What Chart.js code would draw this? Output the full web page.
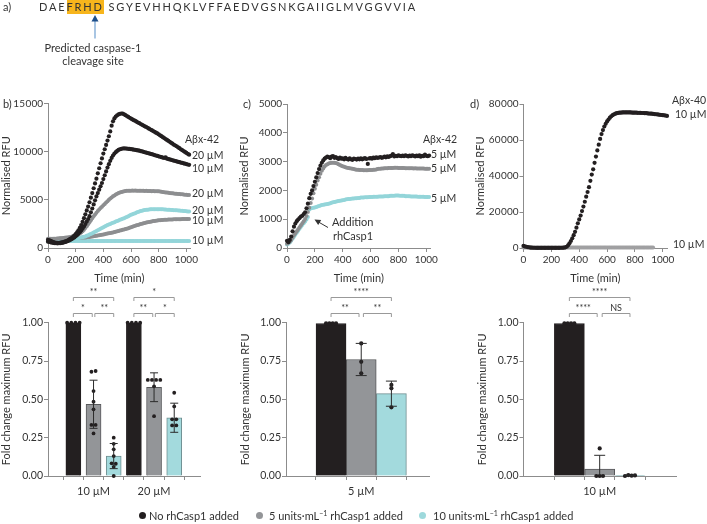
<!DOCTYPE html>
<html><head><meta charset="utf-8">
<script src="https://cdn.jsdelivr.net/npm/chart.js@4.4.0/dist/chart.umd.min.js"></script>
<style>
html,body{margin:0;padding:0;background:#fff;}
#wrap{position:relative;width:707px;height:524px;overflow:hidden;font-family:Lato,"Noto Sans",sans-serif;color:#333;}
canvas.layer{position:absolute;left:0;top:0;}
.t{position:absolute;white-space:nowrap;font-size:11px;line-height:12px;height:12px;}
.s{font-size:10.5px;}
.lg{position:absolute;top:510px;font-size:11px;line-height:12px;white-space:nowrap;}
.dot{position:absolute;width:7px;height:7px;border-radius:50%;top:512px;}
sup{font-size:7px;line-height:0;vertical-align:4px;}
svg{position:absolute;left:0;top:0;}
</style></head><body><div id="wrap">
<canvas id="bLine" class="layer" width="707" height="524"></canvas>
<canvas id="cLine" class="layer" width="707" height="524"></canvas>
<canvas id="dLine" class="layer" width="707" height="524"></canvas>
<canvas id="bBar" class="layer" width="707" height="524"></canvas>
<canvas id="cBar" class="layer" width="707" height="524"></canvas>
<canvas id="dBar" class="layer" width="707" height="524"></canvas>

<svg width="707" height="524">
<line x1="95" y1="38.5" x2="95" y2="20" stroke="#6f9fd0" stroke-width="1.2"/>
<polygon points="95,15 91.5,21.5 98.5,21.5" fill="#1d4f8b"/>
<line x1="328" y1="227.5" x2="318.5" y2="222" stroke="#333" stroke-width="1"/>
<polygon points="314.5,219.5 321.2,219.9 318.2,225.1" fill="#333"/>
</svg>

<div class="t" style="left:3px;top:1px;">a)</div>
<div class="t" style="left:39px;top:1px;letter-spacing:1.85px;">DAE<span style="background:#f7b51c;display:inline-block;height:13px;margin-top:-1px;padding-top:1px;">FRHD</span> SGYEVHHQKLVFFAEDVGSNKGAIIGLMVGGVVIA</div>
<div class="t" style="left:93px;top:42px;transform:translateX(-50%);">Predicted caspase-1</div>
<div class="t" style="left:93px;top:55px;transform:translateX(-50%);">cleavage site</div>

<div class="t" style="left:3px;top:98px;">b)</div>
<div class="t" style="left:243px;top:98px;">c)</div>
<div class="t" style="left:470px;top:98px;">d)</div>

<div class="t s" style="left:185px;top:133px;">Aβx-42</div>
<div class="t s" style="left:192px;top:149px;">20 µM</div>
<div class="t s" style="left:192px;top:162px;">10 µM</div>
<div class="t s" style="left:192px;top:187px;">20 µM</div>
<div class="t s" style="left:192px;top:204px;">20 µM</div>
<div class="t s" style="left:192px;top:214px;">10 µM</div>
<div class="t s" style="left:192px;top:234px;">10 µM</div>

<div class="t s" style="left:423px;top:133px;">Aβx-42</div>
<div class="t s" style="left:431px;top:148px;">5 µM</div>
<div class="t s" style="left:431px;top:162px;">5 µM</div>
<div class="t s" style="left:431px;top:192px;">5 µM</div>
<div class="t" style="left:332px;top:216px;">Addition</div>
<div class="t" style="left:333px;top:230px;">rhCasp1</div>

<div class="t s" style="left:672px;top:94px;">Aβx-40</div>
<div class="t s" style="left:675px;top:108px;">10 µM</div>
<div class="t s" style="left:673px;top:238px;">10 µM</div>

<div class="dot" style="left:139px;background:#231f20;"></div>
<div class="lg" style="left:149px;">No rhCasp1 added</div>
<div class="dot" style="left:256px;background:#939598;"></div>
<div class="lg" style="left:269px;">5 units·mL<sup>−1</sup> rhCasp1 added</div>
<div class="dot" style="left:419px;background:#9ed9dc;"></div>
<div class="lg" style="left:433px;">10 units·mL<sup>−1</sup> rhCasp1 added</div>
</div>
<script>
// ---------- DATA ----------
const timeTicks = [0,200,400,600,800,1000];
const timeMin = [0,10,20,30,40,50,60,70,80,90,100,110,120,130,140,150,160,170,180,190,200,210,220,230,240,250,260,270,280,290,300,310,320,330,340,350,360,370,380,390,400,410,420,430,440,450,460,470,480,490,500,510,520,530,540,550,560,570,580,590,600,610,620,630,640,650,660,670,680,690,700,710,720,730,740,750,760,770,780,790,800,810,820,830,840,850,860,870,880,890,900,910,920,930,940,950,960,970,980,990,1000,1010,1020];
const timeMinD = [0,10,20,30,40,50,60,70,80,90,100,110,120,130,140,150,160,170,180,190,200,210,220,230,240,250,260,270,280,290,300,310,320,330,340,350,360,370,380,390,400,410,420,430,440,450,460,470,480,490,500,510,520,530,540,550,560,570,580,590,600,610,620,630,640,650,660,670,680,690,700,710,720,730,740,750,760,770,780,790,800,810,820,830,840,850,860,870,880,890,900,910,920,930,940,950,960,970,980,990,1000,1010,1020,1030,1040,1050];

// panel b, Aβx-42 (normalised RFU)
const bNone20 = [850,800,730,660,610,570,545,535,540,555,
580,615,660,715,780,855,940,1035,1140,1280,
1450,1620,1830,2080,2380,2720,3100,3500,3900,4300,
4750,5220,5700,6200,6700,7200,7750,8280,8800,9300,
9800,10250,10700,11150,11600,12100,12700,13150,13450,13650,
13780,13870,13930,13960,13950,13880,13790,13700,13610,13520,
13430,13350,13270,13200,13110,13030,12960,12870,12790,12710,
12630,12560,12470,12390,12300,12230,12140,12060,11970,11890,
11800,11700,11610,11500,11410,11310,11220,11110,11020,10920,
10830,10720,10640,10560,10450,10360,10250,10160,10060,9970,
9870,9780,9690];
const bNone10 = [660,630,590,555,525,505,495,490,495,510,
530,560,600,645,700,760,830,910,1000,1100,
1210,1340,1480,1640,1820,2020,2240,2480,2740,3010,
3300,3700,4100,4520,4950,5350,5700,6050,6400,6750,
7150,7550,7950,8350,8700,9050,9350,9600,9800,9950,
10080,10180,10250,10300,10330,10340,10330,10320,10300,10280,
10260,10240,10210,10190,10160,10130,10100,10060,10020,9980,
9940,9900,9860,9820,9780,9740,9700,9650,9600,9560,
9520,9470,9430,9390,9350,9400,9270,9230,9190,9150,
9110,9070,9030,8990,8950,8910,8870,8830,8790,8750,
8710,8670,8630];
const bFive20 = [900,910,920,930,940,950,960,975,990,1005,
1020,1040,1060,1080,1100,1125,1150,1180,1210,1250,
1300,1360,1430,1510,1620,1750,1900,2080,2270,2470,
2680,2890,3090,3290,3480,3660,3830,3990,4140,4290,
4440,4580,4720,4860,5000,5130,5250,5360,5460,5550,
5630,5700,5760,5810,5850,5880,5910,5930,5940,5950,
5950,5960,5950,5960,5950,5940,5950,5940,5930,5930,
5920,5930,5920,5910,5910,5900,5910,5900,5890,5900,
5880,5860,5830,5810,5790,5770,5750,5730,5710,5690,
5680,5660,5640,5630,5610,5600,5580,5570,5560,5540,
5530,5510,5500];
const bTen20 = [700,720,740,760,770,780,790,800,810,820,
830,840,850,860,870,880,895,910,930,950,
975,1000,1030,1060,1090,1120,1160,1200,1260,1320,
1390,1460,1530,1600,1680,1760,1840,1920,2000,2080,
2160,2240,2310,2380,2440,2500,2560,2620,2680,2740,
2800,2860,2920,2980,3040,3100,3160,3230,3300,3370,
3440,3500,3560,3620,3680,3730,3780,3830,3870,3910,
3940,3960,3980,4000,4010,4020,4030,4030,4030,4030,
4030,4030,4020,4010,4000,3990,3980,3970,3960,3950,
3940,3930,3920,3910,3900,3890,3870,3860,3840,3830,
3810,3800,3790];
const bFive10 = [950,950,955,960,960,965,970,970,975,980,
985,990,990,995,1000,1005,1010,1015,1020,1025,
1030,1040,1050,1060,1070,1080,1090,1100,1115,1130,
1150,1170,1190,1215,1240,1265,1290,1320,1350,1380,
1410,1440,1470,1500,1530,1560,1590,1620,1650,1690,
1730,1770,1810,1850,1890,1930,1970,2010,2050,2100,
2150,2200,2250,2300,2350,2400,2440,2480,2520,2560,
2600,2640,2670,2700,2730,2760,2790,2810,2830,2850,
2870,2890,2900,2910,2920,2930,2940,2950,2960,2965,
2970,2975,2980,2985,2990,2990,2995,3000,3000,3000,
3000,3000,3000];
const bTen10 = [720,725,730,730,735,730,730,735,730,730,
735,730,730,735,730,735,730,730,735,730,
730,735,730,730,735,730,735,730,730,735,
730,730,735,730,730,735,730,735,730,730,
735,730,730,735,730,730,735,730,735,730,
730,735,730,730,735,730,730,735,730,735,
730,730,735,730,730,735,730,730,735,730,
735,730,730,735,730,730,735,730,730,735,
730,735,730,730,735,730,730,735,730,730,
735,730,730,735,730,735,730,730,735,730,
730,735,730];

// panel c, Aβx-42 5 µM
const cNone5 = [250,200,280,400,580,740,850,930,990,1040,
1090,1120,1180,1240,1380,1540,1730,1880,2000,2150,
2300,2450,2600,2740,2860,2960,3040,3100,3140,3170,
3160,3120,3170,3190,3130,3160,3120,3090,3140,3100,
3110,3080,3130,3090,3070,3110,3080,3060,3100,3090,
3070,3100,3080,3110,3080,3100,3120,3090,2920,3110,
3120,3100,3140,3120,3150,3130,3140,3160,3130,3150,
3170,3150,3180,3160,3190,3210,3260,3180,3200,3190,
3220,3200,3190,3210,3190,3220,3200,3180,3210,3190,
3220,3200,3180,3210,3190,3220,3170,3200,3190,3240,
3200,3190,3210];
const cFive5 = [150,180,220,280,360,440,510,580,650,720,
790,860,930,1010,1110,1250,1400,1560,1720,1900,
2060,2200,2340,2460,2580,2680,2760,2830,2880,2910,
2930,2950,2960,2960,2960,2950,2930,2910,2880,2860,
2840,2820,2800,2790,2780,2770,2760,2750,2740,2730,
2720,2720,2710,2710,2710,2700,2700,2700,2700,2710,
2710,2710,2720,2720,2730,2740,2750,2750,2760,2760,
2770,2770,2770,2780,2780,2780,2780,2790,2790,2790,
2780,2780,2780,2780,2780,2770,2770,2770,2770,2770,
2770,2760,2770,2760,2760,2760,2760,2760,2760,2750,
2750,2750,2750];
const cTen5 = [120,150,190,250,320,390,460,530,600,670,
740,800,860,920,990,1080,1340,1370,1390,1400,
1410,1420,1440,1460,1480,1490,1500,1510,1520,1530,
1540,1550,1570,1590,1600,1610,1620,1630,1640,1650,
1660,1670,1680,1690,1700,1700,1710,1720,1720,1730,
1730,1740,1740,1750,1750,1750,1760,1760,1760,1770,
1770,1770,1780,1780,1780,1780,1790,1790,1790,1790,
1800,1800,1800,1800,1810,1810,1810,1810,1820,1820,
1820,1810,1810,1810,1810,1800,1800,1800,1800,1790,
1790,1790,1790,1790,1780,1780,1780,1780,1780,1770,
1770,1770,1770];

// panel d, Aβx-40 10 µM
const dNone10 = [1200,900,700,500,350,250,200,150,150,100,
100,100,100,100,100,100,100,100,100,100,
100,100,100,100,100,100,100,150,150,200,
350,700,1500,2600,3900,5400,7100,9000,11300,13700,
15900,18000,20500,23000,25700,28500,31100,33800,37300,40800,
43700,47300,50800,54200,57400,60600,63300,65500,67500,69000,
70300,71400,72400,73200,73800,74300,74600,74900,75100,75200,
75200,75300,75300,75300,75300,75300,75300,75300,75200,75200,
75200,75200,75100,75100,75100,75000,75000,74900,74900,74800,
74700,74700,74600,74500,74400,74300,74200,74100,74000,73900,
73800,73700,73600,73400,73300,73100];
const dFive10 = [300,250,250,300,250,250,300,250,250,300,
250,250,300,250,250,300,250,250,300,250,
250,300,250,250,300,250,250,300,250,250,
300,250,250,300,250,250,300,250,250,300,
250,250,300,250,250,300,250,250,300,250,
250,300,250,250,300,250,250,300,250,250,
300,250,250,300,250,250,300,250,250,300,
250,250,300,250,250,300,250,250,300,250,
250,300,250,250,300,250,250,300,250,250,
300,250,250,300];

// bar panels: fold change of maximum RFU
const barSeries = ['No rhCasp1 added','5 units·mL⁻¹ rhCasp1 added','10 units·mL⁻¹ rhCasp1 added'];
const bCats = ['10 µM','20 µM'];
const bMeans = [[1,1],[0.468,0.579],[0.13,0.38]];
const bSds = [[0,0],[0.157,0.094],[0.082,0.095]];
const bReps = [
  [[1,1,1,1],[1,1,1,1]],
  [[0.68,0.685,0.554,0.485,0.435,0.333,0.333,0.278],[0.627,0.627,0.627,0.627,0.585,0.39]],
  [[0.25,0.21,0.174,0.13,0.083,0.08,0.06,0.0],[0.543,0.454,0.37,0.37,0.33,0.33]]
];
const bSig = [[1,3,'**',1],[1,2,'*',0],[2,3,'**',0],[4,6,'*',1],[4,5,'**',0],[5,6,'*',0]];

const cCats = ['5 µM'];
const cMeans = [[0.995],[0.76],[0.537]];
const cSds = [[0],[0.105],[0.082]];
const cReps = [[[0.995,0.995,0.995,0.995]],[[0.865,0.745,0.67]],[[0.594,0.572,0.448]]];
const cSig = [[1,3,'****',1],[1,2,'**',0],[2,3,'**',0]];

const dCats = ['10 µM'];
const dMeans = [[0.995],[0.045],[0.004]];
const dSds = [[0],[0.09],[0.002]];
const dReps = [[[0.995,0.995,0.995,0.995]],[[0.18,0,0,0]],[[0,0.006,0.002,0.004]]];
const dSig = [[1,3,'****',1],[1,2,'****',0],[2,3,'NS',0]];

// ---------- STYLE ----------
const BLACK='#231f20', GRAYL='#8d8e90', CYANL='#93d5d9';
const BARCOL=['#231f20','#939598','#a3dadd'];
const BARBORDER=['#231f20','#58595b','#6f8f91'];
const AX='#8c8c8c', TXT='#333';
Chart.defaults.font.family='Lato, "Noto Sans", sans-serif';
Chart.defaults.color=TXT;
Chart.defaults.animation=false;

function pts(t,v){return v.map((y,i)=>({x:t[i],y:y}));}
function frame(g,xH){return {left:g.L-g.yW,top:g.T,right:707-g.R,bottom:524-g.B-xH};}
function thou(v){const s=String(v);return v>=10000? s.slice(0,-3)+'\u200A'+s.slice(-3):s;}

function axisBase(){return {grid:{drawOnChartArea:false,tickLength:4,color:AX,lineWidth:1},border:{color:AX,width:1}};}

function makeLine(id,g,sets,yMax,yStep,fmt){
  const xH=37;
  new Chart(document.getElementById(id),{
    type:'scatter',
    data:{datasets:sets.map(s=>({data:pts(s.t,s.v),pointBackgroundColor:s.c,pointBorderWidth:0,pointRadius:s.r,showLine:false,clip:false}))},
    options:{responsive:false,devicePixelRatio:1,animation:false,layout:{padding:frame(g,xH)},
      plugins:{legend:{display:false},tooltip:{enabled:false}},
      events:[],
      scales:{
        x:Object.assign(axisBase(),{type:'linear',min:0,max:1030,afterFit:s=>{s.height=xH;},
          afterBuildTicks:s=>{s.ticks=timeTicks.map(v=>({value:v}));},
          ticks:{callback:v=>String(v),font:{size:10},padding:2,maxRotation:0,autoSkip:false,color:TXT},
          title:{display:true,text:'Time (min)',font:{size:11},padding:{top:6,bottom:0},color:TXT}}),
        y:Object.assign(axisBase(),{type:'linear',min:0,max:yMax,afterFit:s=>{s.width=g.yW;},
          ticks:{stepSize:yStep,callback:fmt,font:{size:10},padding:1,color:TXT},
          title:{display:true,text:'Normalised RFU',font:{size:11},padding:0,color:TXT}})
      }}
  });
}

const sigPlugin={id:'sig',afterDraw(chart,args,o){
  if(!o||!o.items)return;
  const ctx=chart.ctx,xs=chart.scales.x,ys=chart.scales.y;
  ctx.save();ctx.strokeStyle='#999';ctx.lineWidth=1;ctx.fillStyle=TXT;
  ctx.font='9px Lato, "Noto Sans", sans-serif';ctx.textAlign='center';ctx.textBaseline='bottom';
  o.items.forEach(([a,b,lab,lev])=>{
    let x1=xs.getPixelForValue(a),x2=xs.getPixelForValue(b);
    if(lev===0){ if((a-1)%3===1)x1+=o.gap; if((b-1)%3===1)x2-=o.gap; }
    const y=Math.round(ys.getPixelForValue(o.levels[lev]))+0.5;
    ctx.beginPath();ctx.moveTo(x1,y+3.5);ctx.lineTo(x1,y);ctx.lineTo(x2,y);ctx.lineTo(x2,y+3.5);ctx.stroke();
    ctx.fillText(lab,(x1+x2)/2,y-0.5);
  });
  ctx.restore();
}};
const errPlugin={id:'err',afterDatasetsDraw(chart,args,o){
  if(!o||!o.items)return;
  const ctx=chart.ctx,xs=chart.scales.x,ys=chart.scales.y;
  ctx.save();ctx.strokeStyle='#2b2b2b';ctx.lineWidth=1;
  o.items.forEach(it=>{
    if(!it.sd)return;
    const x=xs.getPixelForValue(it.x),yt=ys.getPixelForValue(it.m+it.sd),yb=ys.getPixelForValue(Math.max(0,it.m-it.sd));
    const h=o.cap/2;
    ctx.beginPath();ctx.moveTo(x,yt);ctx.lineTo(x,yb);
    ctx.moveTo(x-h,yt);ctx.lineTo(x+h,yt);
    if(it.m-it.sd>0){ctx.moveTo(x-h,yb);ctx.lineTo(x+h,yb);}
    ctx.stroke();
  });
  ctx.restore();
}};

function makeBar(id,g,cats,means,sds,reps,sig,xMin,xMax,barW,cap,gap,dotR){
  const xH=30;
  const ppu=(g.R-g.L)/(xMax-xMin);
  const pos=(ci,si)=>ci*3+si+1;
  const datasets=[];
  const dots=[];
  const errs=[];
  reps.forEach((serie,si)=>serie.forEach((vals,ci)=>{
    const clusters=[];
    vals.forEach(v=>{let c=clusters.find(c=>Math.abs(c.v-v)<0.02);if(!c){c={v:v,list:[]};clusters.push(c);}c.list.push(v);});
    clusters.forEach(c=>{const n=c.list.length;c.list.forEach((v,k)=>dots.push({x:pos(ci,si)+((k-(n-1)/2)*5)/ppu,y:v}));});
    errs.push({x:pos(ci,si),m:means[si][ci],sd:sds[si][ci]});
  }));
  datasets.push({type:'scatter',data:dots,pointBackgroundColor:BLACK,pointBorderWidth:0,pointRadius:dotR,clip:false});
  means.forEach((m,si)=>{
    datasets.push({type:'bar',label:barSeries[si],data:m.map((v,ci)=>({x:pos(ci,si),y:v})),
      backgroundColor:BARCOL[si],borderColor:BARBORDER[si],borderWidth:1,barThickness:barW,grouped:false});
  });
  const tickVals=[];cats.forEach((c,ci)=>{for(let si=0;si<3;si++)tickVals.push(pos(ci,si));});
  new Chart(document.getElementById(id),{
    type:'bar',
    data:{datasets:datasets},
    plugins:[errPlugin,sigPlugin],
    options:{responsive:false,devicePixelRatio:1,animation:false,layout:{padding:frame(g,xH)},events:[],
      plugins:{legend:{display:false},tooltip:{enabled:false},
        err:{items:errs,cap:cap},
        sig:{items:sig,levels:[1.063,1.165],gap:gap}},
      scales:{
        x:Object.assign(axisBase(),{type:'linear',min:xMin,max:xMax,afterFit:s=>{s.height=xH;},
          afterBuildTicks:s=>{s.ticks=tickVals.map(v=>({value:v}));},
          ticks:{autoSkip:false,maxRotation:0,padding:5,font:{size:11},color:TXT,
            callback:(v)=>{const i=tickVals.indexOf(v);return (i%3===1)?cats[Math.floor(i/3)]:'';}}}),
        y:Object.assign(axisBase(),{type:'linear',min:0,max:1,afterFit:s=>{s.width=g.yW;},
          ticks:{stepSize:0.25,callback:v=>v.toFixed(2),font:{size:10.5},padding:1,color:TXT},
          title:{display:true,text:'Fold change maximum RFU',font:{size:11},padding:0,color:TXT}})
      }}
  });
}

// ---------- CHARTS ----------
makeLine('bLine',{L:48,R:190.5,T:103.5,B:248,yW:48},[
  {t:timeMin,v:bNone20,c:BLACK,r:2.1},
  {t:timeMin,v:bNone10,c:BLACK,r:2.1},
  {t:timeMin,v:bFive20,c:GRAYL,r:2},
  {t:timeMin,v:bTen20,c:CYANL,r:2},
  {t:timeMin,v:bFive10,c:GRAYL,r:2},
  {t:timeMin,v:bTen10,c:CYANL,r:2}
],15000,5000,v=>v>=10000?thou(v):String(v));

makeLine('cLine',{L:287,R:430.5,T:104,B:248,yW:49},[
  {t:timeMin,v:cNone5,c:BLACK,r:2.1},
  {t:timeMin,v:cFive5,c:GRAYL,r:2},
  {t:timeMin,v:cTen5,c:CYANL,r:2}
],5000,1000,v=>String(v));

makeLine('dLine',{L:523.5,R:667,T:104,B:248,yW:50},[
  {t:timeMinD,v:dNone10,c:BLACK,r:2.1},
  {t:timeMin,v:dFive10,c:'#a0a0a2',r:2}
],80000,20000,v=>thou(v));

makeBar('bBar',{L:48,R:200,T:322.7,B:476,yW:48},bCats,bMeans,bSds,bReps,bSig,0.37,6.65,15,8,1.3,1.9);
makeBar('cBar',{L:286,R:429.5,T:322.7,B:476,yW:47},cCats,cMeans,cSds,cReps,cSig,0.30,3.47,30,11,2.2,2.1);
makeBar('dBar',{L:523.5,R:676,T:322.7,B:476,yW:48},dCats,dMeans,dSds,dReps,dSig,0.325,3.68,30,11,2.5,2.1);
</script>
</body></html>
